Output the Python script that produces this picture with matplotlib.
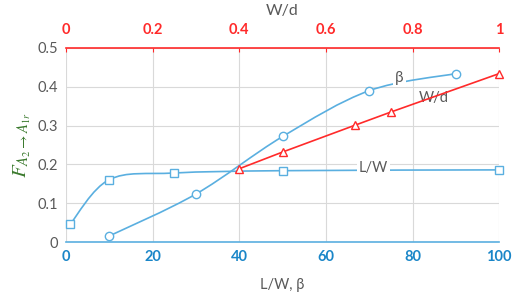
import matplotlib
matplotlib.use('Agg')
import matplotlib.pyplot as plt
from matplotlib.path import Path
from matplotlib.patches import PathPatch

plt.rcParams['font.family'] = ['Lato', 'DejaVu Sans']
plt.rcParams['mathtext.fontset'] = 'stix'

# data
lw_x = [1, 10, 25, 50, 100]
lw_y = [0.047, 0.161, 0.178, 0.184, 0.186]
beta_x = [10, 30, 50, 70, 90]
beta_y = [0.016, 0.124, 0.272, 0.390, 0.434]
wd_x = [0.4, 0.5, 0.667, 0.75, 1.0]
wd_y = [0.189, 0.232, 0.301, 0.335, 0.434]

bottom_ticks = [0, 20, 40, 60, 80, 100]
top_ticks = [0, 0.2, 0.4, 0.6, 0.8, 1]
top_tick_labels = ['0', '0.2', '0.4', '0.6', '0.8', '1']
y_ticks = [0, 0.1, 0.2, 0.3, 0.4, 0.5]
y_tick_labels = ['0', '0.1', '0.2', '0.3', '0.4', '0.5']

BLUE = '#5aafe0'
BLUE_TXT = '#1a86c8'
RED = '#ff2a2a'
GRAY = '#595959'
GREEN = '#3b7a2e'


def smooth_path(xs, ys):
    # Excel-style smoothed line: cubic bezier segments (Catmull-Rom)
    pts = list(zip(xs, ys))
    verts = [pts[0]]
    codes = [Path.MOVETO]
    n = len(pts)
    for i in range(n - 1):
        p0 = pts[i - 1] if i > 0 else pts[i]
        p1 = pts[i]
        p2 = pts[i + 1]
        p3 = pts[i + 2] if i + 2 < n else pts[i + 1]
        c1 = (p1[0] + (p2[0] - p0[0]) / 6, p1[1] + (p2[1] - p0[1]) / 6)
        c2 = (p2[0] - (p3[0] - p1[0]) / 6, p2[1] - (p3[1] - p1[1]) / 6)
        verts += [c1, c2, p2]
        codes += [Path.CURVE4] * 3
    return Path(verts, codes)


fig = plt.figure(figsize=(5.12, 2.96), dpi=100)
ax = fig.add_axes([0.129, 0.182, 0.846, 0.656])
ax.set_xlim(0, 100)
ax.set_ylim(0, 0.5)

ax.grid(True, color='#d9d9d9', linewidth=0.8)
ax.set_axisbelow(True)

ax.add_patch(PathPatch(smooth_path(lw_x, lw_y), fill=False, edgecolor=BLUE, linewidth=1.2, zorder=3))
ax.add_patch(PathPatch(smooth_path(beta_x, beta_y), fill=False, edgecolor=BLUE, linewidth=1.2, zorder=3))
ax.plot(lw_x, lw_y, linestyle='none', marker='s', markersize=5.5, markerfacecolor='white',
        markeredgecolor=BLUE, markeredgewidth=1.0, zorder=4, clip_on=False)
ax.plot(beta_x, beta_y, linestyle='none', marker='o', markersize=6, markerfacecolor='white',
        markeredgecolor=BLUE, markeredgewidth=1.0, zorder=4, clip_on=False)

ax.set_xticks(bottom_ticks)
ax.set_xticklabels([str(t) for t in bottom_ticks], color=BLUE_TXT, fontweight='bold', fontsize=10.5)
ax.set_yticks(y_ticks)
ax.set_yticklabels(y_tick_labels, color=GRAY, fontsize=10.5)
ax.tick_params(axis='both', length=0, pad=6)
for s in ['left', 'right', 'top']:
    ax.spines[s].set_visible(False)
ax.spines['bottom'].set_color(BLUE)
ax.spines['bottom'].set_linewidth(1.2)
ax.set_xlabel('L/W, β', color=GRAY, fontsize=10.5, labelpad=10)
ax.set_ylabel(r'$F_{A_2 \rightarrow A_{1r}}$', color=GREEN, fontsize=15, labelpad=3)

ax.text(77, 0.423, 'β', color=GRAY, fontsize=11, ha='center', va='center', zorder=5,
        bbox=dict(facecolor='white', edgecolor='none', pad=1.5))
ax.text(85, 0.371, 'W/d', color=GRAY, fontsize=10.5, ha='center', va='center', zorder=5,
        bbox=dict(facecolor='white', edgecolor='none', pad=1.5))
ax.text(71, 0.19, 'L/W', color=GRAY, fontsize=10.5, ha='center', va='center', zorder=5,
        bbox=dict(facecolor='white', edgecolor='none', pad=1.5))

top = ax.twiny()
top.set_xlim(0, 1)
top.plot(wd_x, wd_y, color=RED, linewidth=1.2, marker='^', markersize=6, markerfacecolor='white',
         markeredgecolor=RED, markeredgewidth=1.0, zorder=4, clip_on=False)
top.set_xticks(top_ticks)
top.set_xticklabels(top_tick_labels, color=RED, fontweight='bold', fontsize=10.5)
top.tick_params(axis='x', direction='in', length=3, color=RED, pad=8)
for s in ['left', 'right', 'bottom']:
    top.spines[s].set_visible(False)
top.spines['top'].set_color(RED)
top.spines['top'].set_linewidth(1.2)
top.set_xlabel('W/d', color=GRAY, fontsize=11.5, labelpad=6)

fig.savefig('out.png', dpi=100)
